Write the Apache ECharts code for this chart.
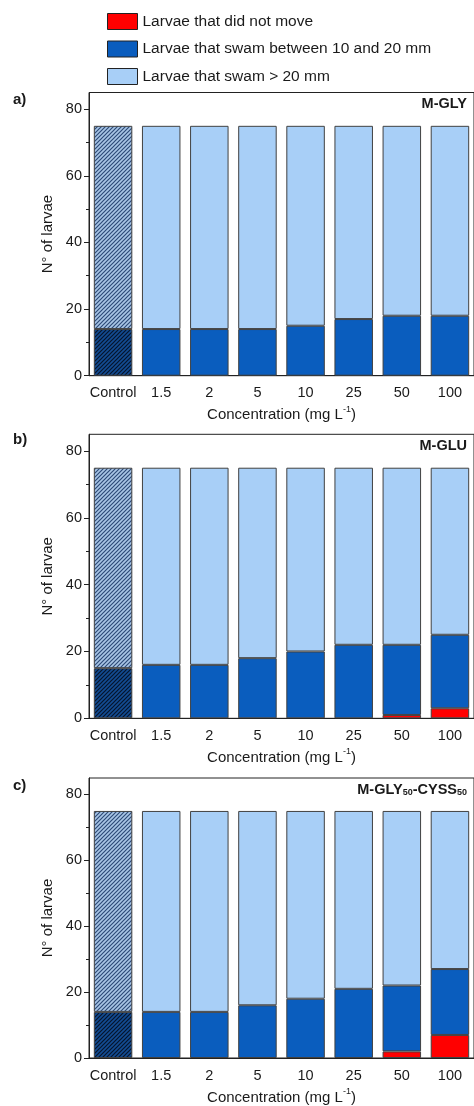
<!DOCTYPE html>
<html>
<head>
<meta charset="utf-8">
<script src="https://cdn.jsdelivr.net/npm/echarts@6/dist/echarts.min.js"></script>
<style>
  html, body { margin: 0; padding: 0; background: #fff; }
  #chart { width: 474px; height: 1106px; }
</style>
</head>
<body>
<div id="chart"></div>
<script>
// Concentrations tested (mg L-1)
const categories = ['Control', '1.5', '2', '5', '10', '25', '50', '100'];

// a) M-GLY — counts of larvae per behaviour class
const glyNotMoved = [0, 0, 0, 0, 0, 0, 0, 0];
const glySwam10to20 = [14, 14, 14, 14, 15, 17, 18, 18];
const glySwamOver20 = [61, 61, 61, 61, 60, 58, 57, 57];

// b) M-GLU
const gluNotMoved = [0, 0, 0, 0, 0, 0, 1, 3];
const gluSwam10to20 = [15, 16, 16, 18, 20, 22, 21, 22];
const gluSwamOver20 = [60, 59, 59, 57, 55, 53, 53, 50];

// c) M-GLY50-CYSS50
const cyssNotMoved = [0, 0, 0, 0, 0, 0, 2, 7];
const cyssSwam10to20 = [14, 14, 14, 16, 18, 21, 20, 20];
const cyssSwamOver20 = [61, 61, 61, 59, 57, 54, 53, 48];

const seriesNames = [
  'Larvae that did not move',
  'Larvae that swam between 10 and 20 mm',
  'Larvae that swam > 20 mm'
];
const yMajorTicks = [0, 20, 40, 60, 80];
const yMinorTicks = [10, 30, 50, 70];

const FONT = "'Liberation Sans', Arial, sans-serif";
const TEXT = '#1a1a1a';
const RED = '#FF0000';
const DARK = '#0A5DBE';
const LIGHT = '#A8CFF7';
const EDGE = '#404040';

// Diagonal hatch used for the control bar
function hatch(bg, fg) {
  const c = document.createElement('canvas');
  c.width = 4; c.height = 4;
  const g = c.getContext('2d');
  g.fillStyle = bg;
  g.fillRect(0, 0, 4, 4);
  g.strokeStyle = fg;
  g.lineWidth = 1.2;
  g.beginPath();
  g.moveTo(-1, 5); g.lineTo(5, -1);
  g.moveTo(-1, 1); g.lineTo(1, -1);
  g.moveTo(3, 5); g.lineTo(5, 3);
  g.stroke();
  return { image: c, repeat: 'repeat' };
}
const hatchByClass = [
  hatch('#C02020', '#400000'),
  hatch('#134C93', '#06142c'),
  hatch('#A9C6E6', '#2E4B78')
];
const colors = [RED, DARK, LIGHT];

const panels = [
  { letter: 'a)', data: [glyNotMoved, glySwam10to20, glySwamOver20], top: 92.5, height: 283.2,
    title: '{b|M-GLY}' },
  { letter: 'b)', data: [gluNotMoved, gluSwam10to20, gluSwamOver20], top: 434.3, height: 284,
    title: '{b|M-GLU}' },
  { letter: 'c)', data: [cyssNotMoved, cyssSwam10to20, cyssSwamOver20], top: 778, height: 284.3,
    title: '{b|M-GLY}{s|50}{b|-CYSS}{s|50}' }
];

const grid = [], xAxis = [], yAxis = [], series = [], graphic = [];

panels.forEach((p, i) => {
  grid.push({
    left: 89, width: 389, top: p.top, height: p.height,
    show: true, borderColor: '#222', borderWidth: 1, backgroundColor: 'transparent'
  });
  xAxis.push({
    type: 'category', gridIndex: i, data: categories,
    axisLine: { lineStyle: { color: '#222', width: 1 } },
    axisTick: { alignWithLabel: true, length: 5, inside: false, interval: 0, lineStyle: { color: '#222' } },
    axisLabel: { interval: 0, hideOverlap: false, margin: 10, fontFamily: FONT, fontSize: 14.5, color: TEXT },
    name: '{a|Concentration (mg L}{s|-1}{a|)}',
    nameLocation: 'middle', nameGap: 29,
    nameTextStyle: {
      fontFamily: FONT,
      rich: {
        a: { fontFamily: FONT, fontSize: 15, color: TEXT, lineHeight: 18, verticalAlign: 'bottom' },
        s: { fontFamily: FONT, fontSize: 9, color: TEXT, lineHeight: 18, verticalAlign: 'top' }
      }
    },
    splitLine: { show: false }
  });
  // main value axis with labelled ticks
  yAxis.push({
    type: 'value', gridIndex: i, min: 0, max: 85, interval: 20, position: 'left',
    axisLine: { show: true, lineStyle: { color: '#222', width: 1 } },
    axisTick: { show: true, length: 5, customValues: yMajorTicks, lineStyle: { color: '#222' } },
    axisLabel: { customValues: yMajorTicks, margin: 7, fontFamily: FONT, fontSize: 14.5, color: TEXT },
    splitLine: { show: false },
    name: 'N° of larvae', nameLocation: 'middle', nameGap: 34,
    nameTextStyle: { fontFamily: FONT, fontSize: 15, color: TEXT }
  });
  // companion axis carrying the short minor ticks
  yAxis.push({
    type: 'value', gridIndex: i, min: 0, max: 85, position: 'left',
    axisLine: { show: false },
    axisTick: { show: true, length: 3, customValues: yMinorTicks, lineStyle: { color: '#222' } },
    axisLabel: { show: false },
    splitLine: { show: false }
  });

  p.data.forEach((vals, k) => {
    series.push({
      type: 'bar', name: seriesNames[k], stack: 'panel' + i,
      xAxisIndex: i, yAxisIndex: 2 * i,
      barCategoryGap: '20%',
      itemStyle: { color: colors[k], borderColor: EDGE, borderWidth: 1 },
      emphasis: { disabled: true },
      data: vals.map((v, j) => {
        const val = v === 0 ? '-' : v;
        if (j === 0) return { value: val, itemStyle: { color: hatchByClass[k] } };
        return val;
      })
    });
  });

  graphic.push({
    type: 'text', x: 13, y: p.top + 8 - (i === 0 ? 0.5 : (i === 1 ? 2.5 : 0)),
    style: { text: p.letter, font: 'bold 15px ' + FONT, fill: TEXT, textVerticalAlign: 'middle' }
  });
  graphic.push({
    type: 'text', x: 467, y: p.top + 11.5,
    style: {
      text: p.title, fill: TEXT, textAlign: 'right', textVerticalAlign: 'middle',
      rich: {
        b: { font: 'bold 14.5px ' + FONT, fill: TEXT, lineHeight: 16, verticalAlign: 'middle' },
        s: { font: 'bold 9px ' + FONT, fill: TEXT, lineHeight: 16, verticalAlign: 'bottom' }
      }
    }
  });
});

const chart = echarts.init(document.getElementById('chart'), null, { renderer: 'canvas' });
chart.setOption({
  animation: false,
  backgroundColor: '#fff',
  legend: {
    data: seriesNames, orient: 'vertical', left: 102, top: 8,
    itemWidth: 30, itemHeight: 16, itemGap: 10.5,
    icon: 'rect',
    selectedMode: false,
    textStyle: { fontFamily: FONT, fontSize: 15.5, color: TEXT },
    itemStyle: { borderColor: '#222', borderWidth: 1 }
  },
  grid, xAxis, yAxis, series, graphic
});
</script>
</body>
</html>
